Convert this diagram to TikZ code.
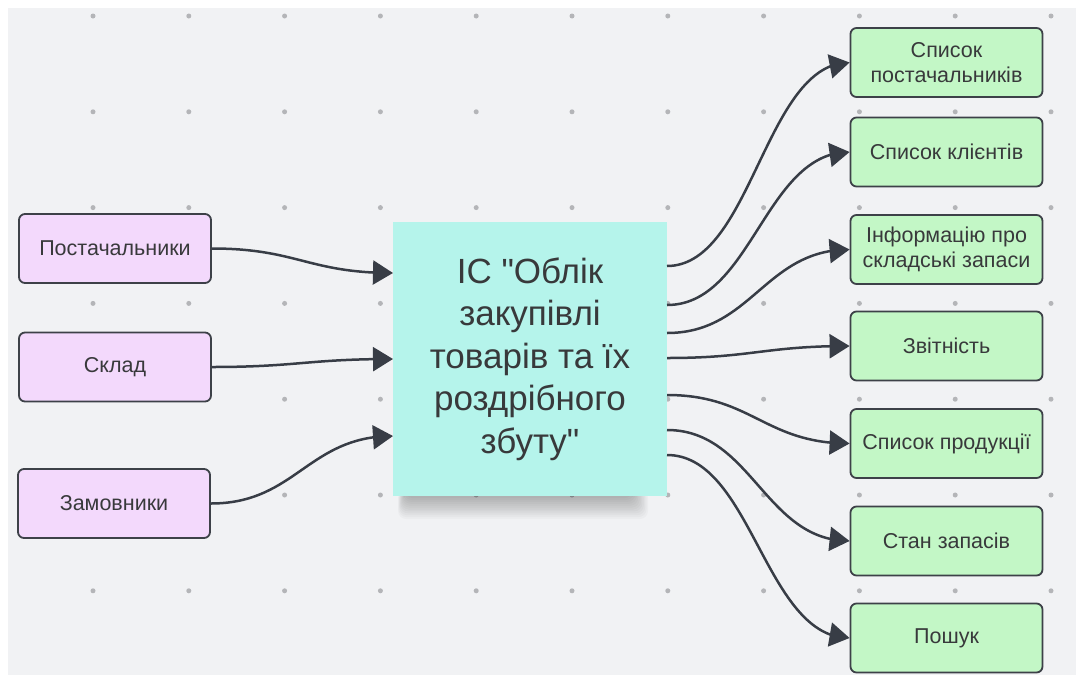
\documentclass[tikz,border=0pt]{standalone}
\usepackage{fontspec}
\setmainfont{Liberation Sans}
\usetikzlibrary{arrows.meta,bending}

\definecolor{canvas}{HTML}{F1F2F4}
\definecolor{griddot}{HTML}{B4B5B8}
\definecolor{edge}{HTML}{3D4148}
\definecolor{ink}{HTML}{38393B}
\definecolor{srcfill}{HTML}{F3D9FC}
\definecolor{outfill}{HTML}{C3F7C6}
\definecolor{sysfill}{HTML}{B5F4EB}
\definecolor{wire}{HTML}{383D46}

\tikzset{
  entity/.style={draw=edge, line width=1.8pt, rounded corners=6pt,
    minimum width=192pt, minimum height=69pt, inner sep=2pt,
    align=center, text=ink, font=\fontsize{21.5}{25}\selectfont},
  source/.style={entity, fill=srcfill},
  result/.style={entity, fill=outfill},
  system/.style={fill=sysfill, minimum width=274pt, minimum height=274pt,
    inner sep=0pt, align=center, text=ink,
    font=\fontsize{35}{42.5}\selectfont},
  flow/.style={draw=wire, line width=2.5pt,
    -{Triangle[length=20pt,width=24pt,flex]}},
}

\begin{document}
\begin{tikzpicture}[x=1pt,y=-1pt]
  \useasboundingbox (0,0) rectangle (1076,675);
  \fill[white] (0,0) rectangle (1076,675);
  \fill[canvas] (8,8) rectangle (1076,675);

  % dotted grid of the board
  \foreach \i in {0,...,10}
    \foreach \j in {0,...,6}
      \fill[griddot] ({93+95.8*\i},{16+95.8*\j}) circle (2.5);

  % soft shadow under the system block
  \foreach \k in {0,...,11}
    \fill[black, opacity=0.025, rounded corners=8pt]
      ({398+\k*0.6},{490}) rectangle ({648-\k*1.4},{519-\k*1.9});

  % system block
  \node[system] (sys) at (530,359)
    {ІС \textquotedbl Облік\\закупівлі\\товарів та їх\\роздрібного\\збуту\textquotedbl};

  % sources
  \node[source] (s1) at (115,248.5) {Постачальники};
  \node[source] (s2) at (115,367) {Склад};
  \node[source] (s3) at (114,503.5) {Замовники};

  % results
  \node[result] (r1) at (946.5,62.5) {Список\\постачальників};
  \node[result] (r2) at (946.5,152) {Список клієнтів};
  \node[result] (r3) at (946.5,249.5) {Інформацію про\\складські запаси};
  \node[result] (r4) at (946.5,346) {Звітність};
  \node[result] (r5) at (946.5,443.5) {Список продукції};
  \node[result] (r6) at (946.5,541) {Стан запасів};
  \node[result] (r7) at (946.5,638) {Пошук};

  % ports on the system block
  \coordinate (i1) at (393,273);
  \coordinate (i2) at (393,359);
  \coordinate (i3) at (393,436);
  \coordinate (o1) at (667,266);
  \coordinate (o2) at (667,305);
  \coordinate (o3) at (667,333);
  \coordinate (o4) at (667,358);
  \coordinate (o5) at (667,395);
  \coordinate (o6) at (667,430);
  \coordinate (o7) at (667,455);

  % incoming flows
  \draw[flow] (s1.east) .. controls +(85,0) and +(-85,0) .. (i1);
  \draw[flow] (s2.east) .. controls +(85,0) and +(-85,0) .. (i2);
  \draw[flow] (s3.east) .. controls +(85,0) and +(-85,0) .. (i3);

  % outgoing flows
  \draw[flow] (o1) .. controls +(85,0) and +(-85,0) .. (r1.west);
  \draw[flow] (o2) .. controls +(85,0) and +(-85,0) .. (r2.west);
  \draw[flow] (o3) .. controls +(85,0) and +(-85,0) .. (r3.west);
  \draw[flow] (o4) .. controls +(85,0) and +(-85,0) .. (r4.west);
  \draw[flow] (o5) .. controls +(85,0) and +(-85,0) .. (r5.west);
  \draw[flow] (o6) .. controls +(85,0) and +(-85,0) .. (r6.west);
  \draw[flow] (o7) .. controls +(85,0) and +(-85,0) .. (r7.west);
\end{tikzpicture}
\end{document}
